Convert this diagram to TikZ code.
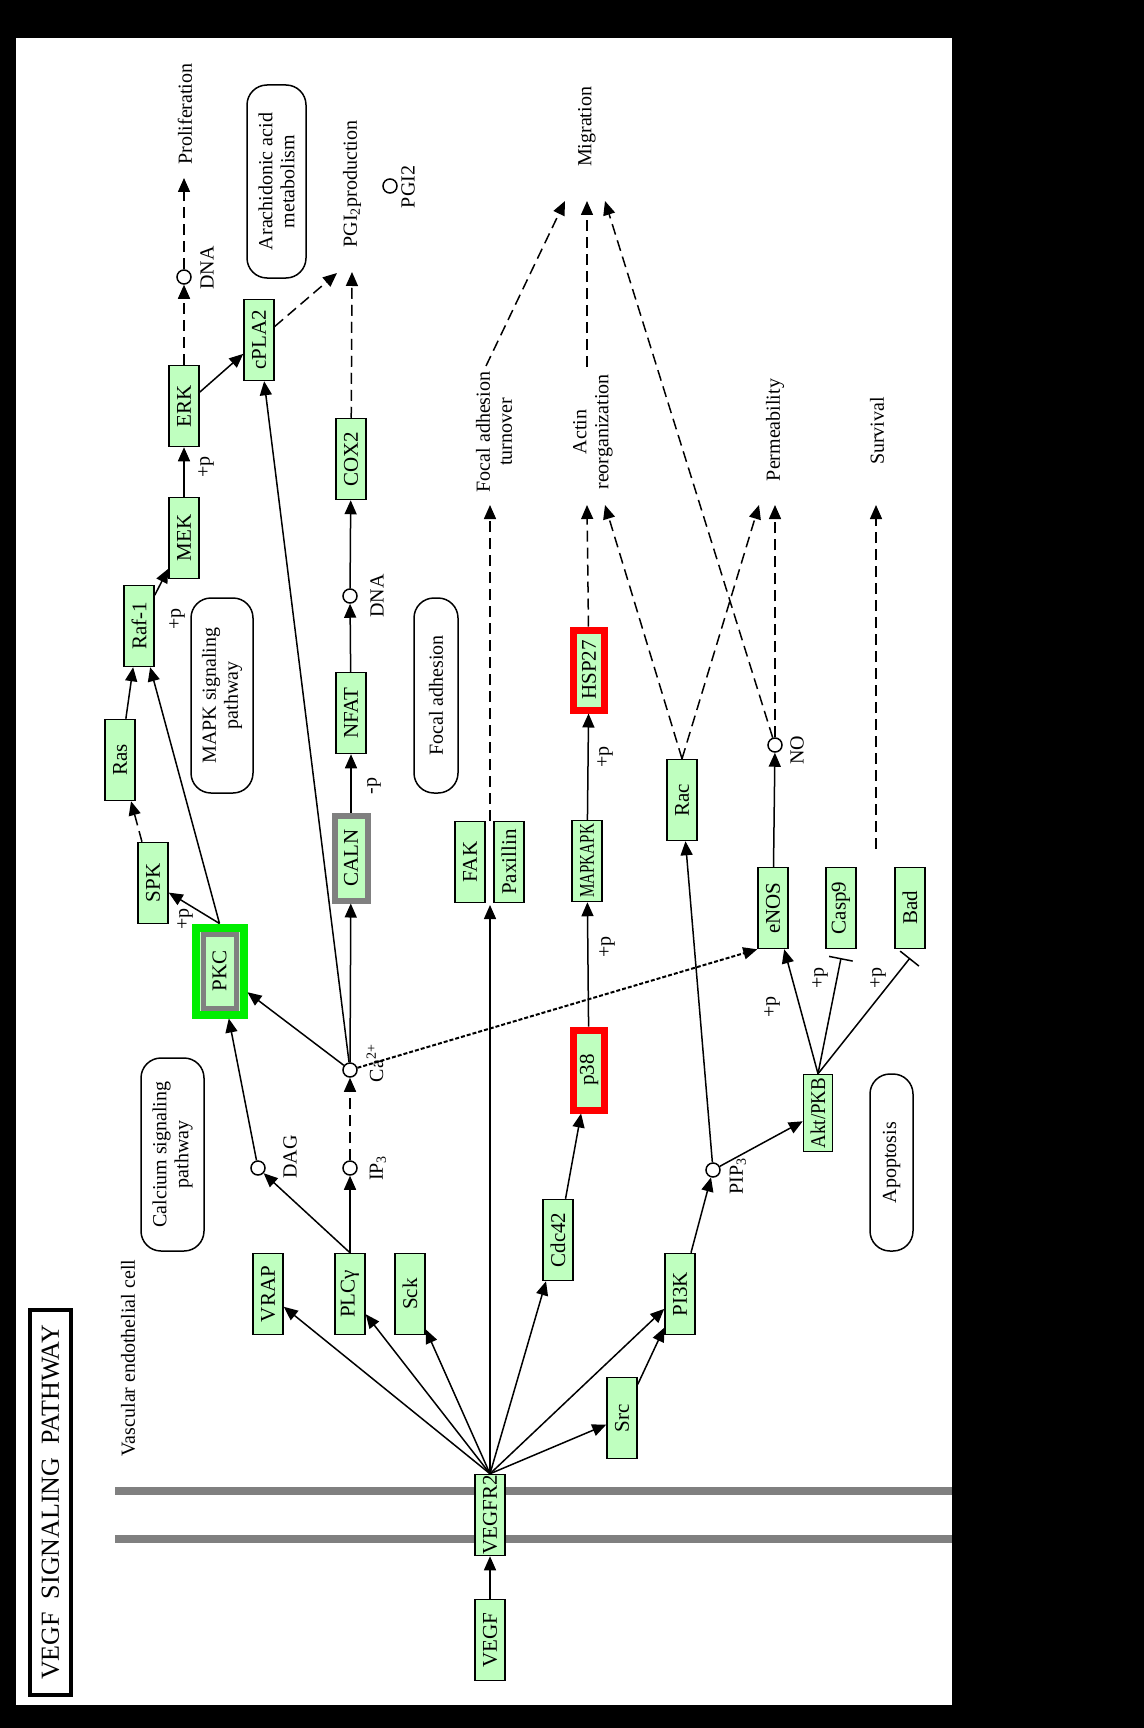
\documentclass[tikz,border=0pt]{standalone}
\usepackage{fontspec}
\setmainfont{Liberation Serif}
\usepackage{graphicx}
\usetikzlibrary{arrows.meta}
\definecolor{kgreen}{HTML}{BFFFBF}
\definecolor{kred}{HTML}{FF0000}
\definecolor{kgray}{HTML}{808080}
\definecolor{klime}{HTML}{00EE00}
\begin{document}
\begin{tikzpicture}[x=0.5pt,y=-0.5pt,
  gene/.style={draw=black, line width=0.75pt, fill=kgreen, rotate=90, minimum width=40.5pt, minimum height=15pt, inner sep=0pt, font=\fontsize{10.5}{11}\selectfont},
  redgene/.style={gene, draw=kred, line width=3.5pt, minimum height=15.5pt, minimum width=40pt},
  lbl/.style={rotate=90, inner sep=0pt, align=center, font=\fontsize{10}{11}\selectfont},
  pathbox/.style={draw=black, line width=0.75pt, rounded corners=10pt, rotate=90, inner sep=0pt, align=center, font=\fontsize{10}{11}\selectfont},
  circ/.style={circle, draw=black, line width=0.75pt, fill=white, minimum size=7pt, inner sep=0pt},
  karr/.style={-{Triangle[length=7pt,width=6pt]}, line width=0.75pt},
  kdash/.style={karr, dash pattern=on 5.5pt off 3pt},
  kdot/.style={karr, line width=1pt, dash pattern=on 2pt off 1pt},
  kinh/.style={-{Bar[width=12pt]}, line width=0.75pt}
]
\useasboundingbox (0,0) rectangle (1144,1728);
\fill[black] (0,0) rectangle (1144,1728);
\fill[white] (16,38) rectangle (952,1705);

% title
\node[draw=black, line width=2pt, rotate=90, minimum width=192.5pt, minimum height=20.5pt, inner sep=0pt, font=\fontsize{13}{14}\selectfont] (title) at (50.5,1502.5) {VEGF\ \ SIGNALING\ \ PATHWAY};
\node[lbl] (cell) at (128,1358) {Vascular endothelial cell};

% membrane
\draw[kgray, line width=4pt] (115,1491) -- (952,1491);
\draw[kgray, line width=4pt] (115,1539) -- (952,1539);

% pathway boxes
\node[pathbox, minimum width=96.5pt, minimum height=31.5pt] (calc) at (172.5,1154.5) {Calcium signaling\\pathway};
\node[pathbox, minimum width=97.5pt, minimum height=31pt] (mapk) at (222,695.5) {MAPK signaling\\pathway};
\node[pathbox, minimum width=97.5pt, minimum height=22pt] (focal) at (436,695.5) {Focal adhesion};
\node[pathbox, minimum width=88.5pt, minimum height=21.5pt] (apop) at (891.5,1162.5) {Apoptosis};
\node[pathbox, minimum width=96.5pt, minimum height=29.5pt] (arach) at (276.5,181.5) {Arachidonic acid\\metabolism};

% genes
\node[gene] (VEGF) at (490,1640) {VEGF};
\node[gene] (VEGFR2) at (490,1515) {VEGFR2};
\node[gene] (VRAP) at (268,1294) {VRAP};
\node[gene] (PLCg) at (350,1294) {PLCγ};
\node[gene] (Sck) at (410,1294) {Sck};
\node[gene] (Cdc42) at (558,1240) {Cdc42};
\node[gene] (PI3K) at (680,1294) {PI3K};
\node[gene] (Src) at (622,1418) {Src};
\node[gene, draw=klime, line width=4pt, minimum height=24pt, minimum width=43.5pt] (PKC) at (219.5,971) {};
\node[gene, draw=kgray, line width=2.5pt, minimum height=16.5pt, minimum width=37pt] (PKCin) at (PKC) {PKC};
\node[gene] (SPK) at (153,883) {SPK};
\node[gene] (Ras) at (120,760) {Ras};
\node[gene] (Raf) at (139,626) {Raf-1};
\node[gene] (MEK) at (184,538) {MEK};
\node[gene] (ERK) at (184,406) {ERK};
\node[gene] (cPLA) at (259,340) {cPLA2};
\node[gene, draw=kgray, line width=3pt, minimum height=16.5pt, minimum width=42.5pt] (CALN) at (351,858) {CALN};
\node[gene] (NFAT) at (351,713) {NFAT};
\node[gene] (COX) at (351,459) {COX2};
\node[gene] (FAK) at (470,862) {FAK};
\node[gene] (Pax) at (509,862) {Paxillin};
\node[gene] (MAPKAPK) at (587,861) {\scalebox{0.72}[1]{MAPKAPK}};
\node[redgene] (HSP) at (589,670) {HSP27};
\node[redgene] (p38) at (589,1070) {p38};
\node[gene] (Rac) at (682,800) {Rac};
\node[gene] (eNOS) at (773,908) {eNOS};
\node[gene] (Casp) at (841,908) {Casp9};
\node[gene] (Bad) at (910,908) {Bad};
\node[gene, minimum width=38.5pt, minimum height=14.5pt] (Akt) at (818,1113) {\scalebox{0.9}[1]{Akt/PKB}};

% compounds
\node[circ] (DAG) at (258,1168) {};
\node[circ] (IP3) at (350,1168) {};
\node[circ] (Ca) at (350,1070) {};
\node[circ] (DNAb) at (350,596) {};
\node[circ] (DNAa) at (184,277) {};
\node[circ] (PGI) at (390,186) {};
\node[circ] (PIP) at (713,1170) {};
\node[circ] (NO) at (775,745) {};

\node[lbl] (DAGl) at (290,1157) {DAG};
\node[lbl] (IP3l) at (378,1168) {IP\textsubscript{3}};
\node[lbl] (Cal) at (375,1063) {Ca\textsuperscript{2+}};
\node[lbl] (DNAbl) at (377,596) {DNA};
\node[lbl] (DNAal) at (207,268) {DNA};
\node[lbl] (PGIl) at (408,187) {PGI2};
\node[lbl] (PIPl) at (738,1176) {PIP\textsubscript{3}};
\node[lbl] (NOl) at (797,750) {NO};

% outcome labels
\node[lbl] (prol) at (185,114) {Proliferation};
\node[lbl] (migr) at (587,127) {Migration};
\node[lbl] (pgip) at (352,184) {PGI\textsubscript{2}production};
\node[lbl] (fat) at (494,432) {Focal adhesion\\turnover};
\node[lbl] (act) at (593,432) {Actin\\reorganization};
\node[lbl] (perm) at (775,430) {Permeability};
\node[lbl] (surv) at (877,431) {Survival};

% +p labels
\node[lbl] (p1) at (177,619) {+p};
\node[lbl] (p2) at (206,467) {+p};
\node[lbl] (p3) at (185,919) {+p};
\node[lbl] (p4) at (374,786) {-p};
\node[lbl] (p5) at (605,757) {+p};
\node[lbl] (p6) at (607,947) {+p};
\node[lbl] (p7) at (772,1007) {+p};
\node[lbl] (p8) at (820,978) {+p};
\node[lbl] (p9) at (878,978) {+p};

% free ends
\coordinate (fakin) at (490,905);
\coordinate (pgiA) at (352,272);
\coordinate (pgiB) at (337,273);
\coordinate (prolif) at (184,178);
\coordinate (actA) at (587,505);
\coordinate (actB) at (605,505);
\coordinate (permA) at (759,505);
\coordinate (permB) at (775,505);
\coordinate (casbar) at (841,958);
\coordinate (badbar) at (910,958);
\coordinate (migA) at (565,201);
\coordinate (migB) at (587,201);
\coordinate (migC) at (605,201);
\coordinate (survA) at (876,849);
\coordinate (survB) at (876,505);
\coordinate (fatA) at (490,821);
\coordinate (fatB) at (490,505);
\coordinate (fatT) at (486,366);
\coordinate (actT) at (587,367);

% connectors
\draw[karr] (VEGF) -- (VEGFR2);
\foreach \t in {VRAP,PLCg,Sck,Cdc42,PI3K,Src} \draw[karr] (VEGFR2.east) -- (\t);
\draw[karr] (VEGFR2.east) -- (fakin);
\draw[karr] (Src) -- (PI3K);
\draw[karr] (PLCg.east) -- (DAG);
\draw[karr] (PLCg) -- (IP3);
\draw[kdash] (IP3) -- (Ca);
\draw[karr] (DAG) -- (PKC);
\draw[karr] (Ca) -- (PKC);
\draw[karr] (Ca) -- (CALN);
\draw[karr] (Ca) -- (cPLA);
\draw[kdot] (Ca) -- (eNOS.north west);
\draw[karr] (CALN) -- (NFAT);
\draw[karr] (NFAT) -- (DNAb);
\draw[karr] (DNAb) -- (COX);
\draw[kdash] (COX) -- (pgiA);
\draw[kdash] (cPLA) -- (pgiB);
\draw[karr] (PKC.east) -- (SPK);
\draw[karr] (PKC.east) -- (Raf);
\draw[kdash] (SPK) -- (Ras);
\draw[karr] (Ras) -- (Raf);
\draw[karr] (Raf) -- (MEK);
\draw[karr] (MEK) -- (ERK);
\draw[karr] (ERK) -- (cPLA);
\draw[kdash] (ERK) -- (DNAa);
\draw[kdash] (DNAa) -- (prolif);
\draw[karr] (Cdc42) -- (p38);
\draw[karr] (p38) -- (MAPKAPK);
\draw[karr] (MAPKAPK) -- (HSP);
\draw[kdash] (HSP) -- (actA);
\draw[karr] (PI3K) -- (PIP);
\draw[karr] (PIP) -- (Akt);
\draw[karr] (PIP) -- (Rac);
\draw[kdash] (Rac.east) -- (actB);
\draw[kdash] (Rac.east) -- (permA);
\draw[karr] (Akt.east) -- (eNOS);
\draw[kinh] (Akt.east) -- (casbar);
\draw[kinh] (Akt.east) -- (badbar);
\draw[karr] (eNOS) -- (NO);
\draw[kdash] (NO) -- (permB);
\draw[kdash] (NO) -- (migC);
\draw[kdash] (survA) -- (survB);
\draw[kdash] (fatA) -- (fatB);
\draw[kdash] (fatT) -- (migA);
\draw[kdash] (actT) -- (migB);
\end{tikzpicture}
\end{document}
